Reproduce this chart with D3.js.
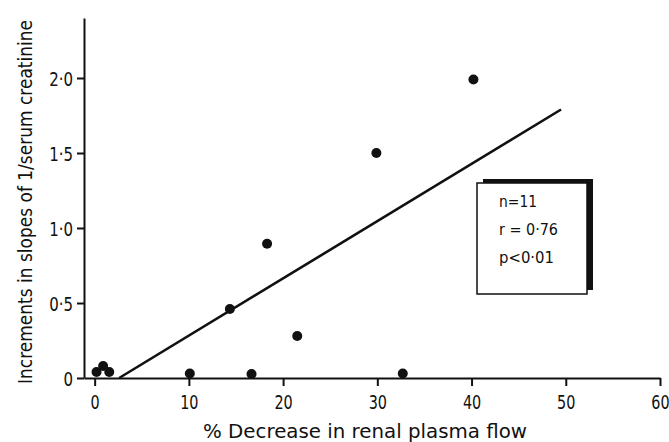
<!DOCTYPE html>
<html>
<head>
<meta charset="utf-8">
<script src="https://cdn.jsdelivr.net/npm/d3@7"></script>
<style>
  body { margin: 0; background: #fff; }
  svg { display: block; }
  text { font-family: "DejaVu Sans", sans-serif; fill: #111; }
</style>
</head>
<body>
<div id="chart"></div>
<script>
// % decrease in renal plasma flow vs increment in slope of 1/serum creatinine
const decreaseRPF = [0.2, 0.9, 1.55, 10.1, 14.35, 16.65, 18.3, 21.5, 29.9, 32.7, 40.2];
const slopeIncrement = [0.04, 0.08, 0.04, 0.03, 0.46, 0.027, 0.895, 0.28, 1.5, 0.03, 1.99];

// regression line end points
const fitX = [2.6, 49.5];
const fitY = [0, 1.79];

const xTicks = [0, 10, 20, 30, 40, 50, 60];
const yTicks = [0, 0.5, 1.0, 1.5, 2.0];
const yTickLabels = ["0", "0\u00b75", "1\u00b70", "1\u00b75", "2\u00b70"];

const statsLines = ["n=11", "r = 0\u00b776", "p<0\u00b701"];
const statsWidths = [38, 59, 55];

const W = 669, H = 442;
const margin = {top: 18, right: 9, bottom: 64, left: 84};
const width = W - margin.left - margin.right;
const height = H - margin.top - margin.bottom;

const svg = d3.select("#chart").append("svg")
    .attr("width", W)
    .attr("height", H);

const g = svg.append("g")
    .attr("transform", `translate(${margin.left},${margin.top})`);

// 0 sits a little to the right of the y axis
const x = d3.scaleLinear().domain([-1.13, 60]).range([0, width]);
const y = d3.scaleLinear().domain([0, 2.4]).range([height, 0]);

const xAxis = g.append("g")
    .attr("transform", `translate(0,${height})`)
    .call(d3.axisBottom(x)
      .tickValues(xTicks)
      .tickFormat(d3.format("d"))
      .tickSize(8)
      .tickSizeOuter(0)
      .tickPadding(9));

const yAxis = g.append("g")
    .call(d3.axisLeft(y)
      .tickValues(yTicks)
      .tickFormat((d, i) => yTickLabels[i])
      .tickSize(7)
      .tickSizeOuter(0)
      .tickPadding(4));

[xAxis, yAxis].forEach(ax => {
  ax.select(".domain").attr("stroke", "#111").attr("stroke-width", 2);
  ax.selectAll(".tick line").attr("stroke", "#111").attr("stroke-width", 2);
  ax.selectAll(".tick text")
    .style("font-size", "20px")
    .attr("fill", "#111");
});
// condensed look of the original lettering
xAxis.selectAll(".tick text").attr("transform", "scale(0.72,1)");
yAxis.selectAll(".tick text")
    .attr("dy", "0.36em")
    .attr("x", -11 / 0.75)
    .attr("transform", "scale(0.75,1)");

// regression line
g.append("line")
    .attr("x1", x(fitX[0])).attr("y1", y(fitY[0]))
    .attr("x2", x(fitX[1])).attr("y2", y(fitY[1]))
    .attr("stroke", "#111")
    .attr("stroke-width", 2.6);

// points
g.selectAll("circle.pt")
  .data(decreaseRPF.map((d, i) => [d, slopeIncrement[i]]))
  .enter().append("circle")
    .attr("class", "pt")
    .attr("cx", d => x(d[0]))
    .attr("cy", d => y(d[1]))
    .attr("r", 5)
    .attr("fill", "#111");

// stats box with shadow up-right
const box = {x: 477, y: 183, w: 110, h: 111};
svg.append("rect")
    .attr("x", box.x + 6).attr("y", box.y - 4)
    .attr("width", box.w).attr("height", box.h)
    .attr("fill", "#111");
svg.append("rect")
    .attr("x", box.x).attr("y", box.y)
    .attr("width", box.w).attr("height", box.h)
    .attr("fill", "#fff")
    .attr("stroke", "#111")
    .attr("stroke-width", 1.5);

svg.selectAll("text.stat")
  .data(statsLines)
  .enter().append("text")
    .attr("class", "stat")
    .attr("x", 499)
    .attr("y", (d, i) => 207 + i * 28)
    .style("font-size", "16px")
    .attr("textLength", (d, i) => statsWidths[i])
    .attr("lengthAdjust", "spacingAndGlyphs")
    .text(d => d);

// axis titles
svg.append("text")
    .attr("x", 365)
    .attr("y", 438)
    .attr("text-anchor", "middle")
    .style("font-size", "19px")
    .attr("textLength", 324)
    .attr("lengthAdjust", "spacingAndGlyphs")
    .text("%  Decrease in renal plasma flow");

svg.append("text")
    .attr("transform", "translate(32,202) rotate(-90)")
    .attr("text-anchor", "middle")
    .style("font-size", "19px")
    .attr("textLength", 364)
    .attr("lengthAdjust", "spacingAndGlyphs")
    .text("Increments in slopes of  1/serum creatinine");
</script>
</body>
</html>
